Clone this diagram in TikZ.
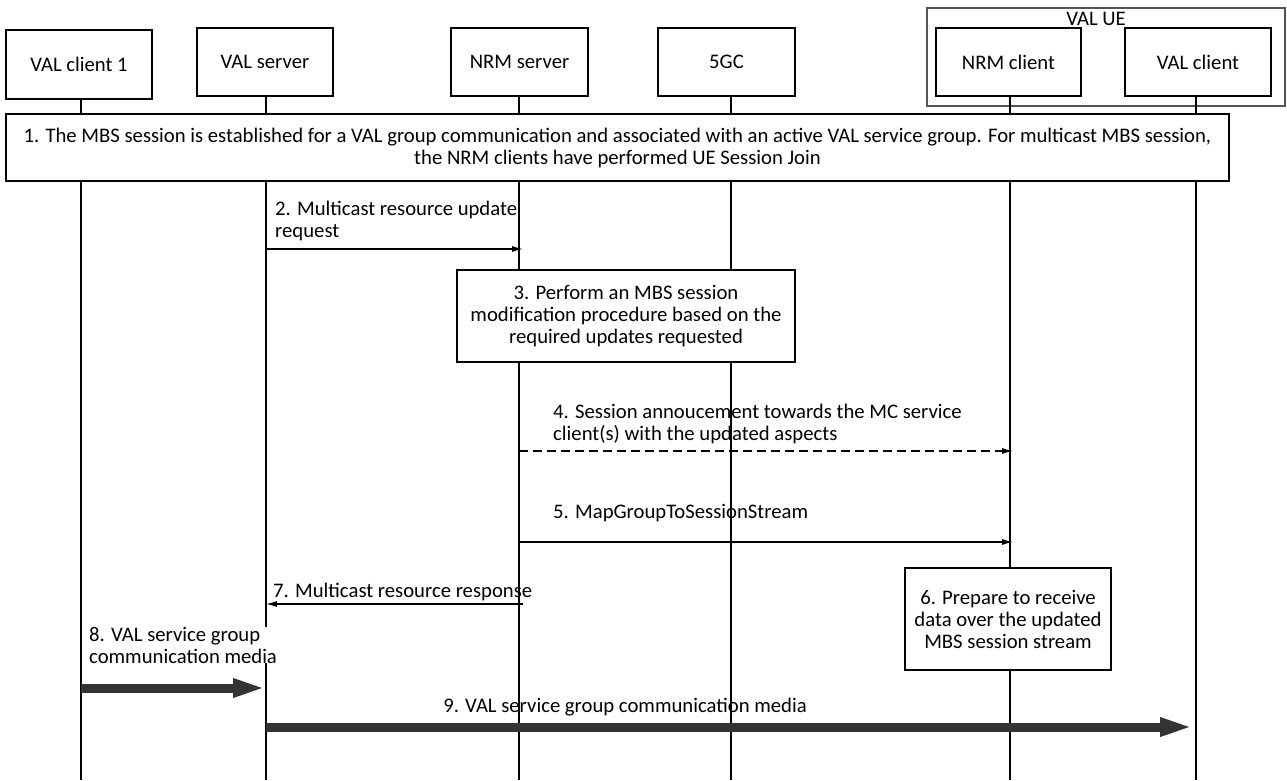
\documentclass[tikz,border=0pt]{standalone}
\usepackage{fontspec}
\setmainfont{Carlito}
\usetikzlibrary{arrows.meta}
\definecolor{mediac}{HTML}{333333}
\definecolor{uegray}{HTML}{555555}
\begin{document}
\begin{tikzpicture}[x=1pt,y=-1pt,
  every node/.style={font=\fontsize{20.7}{22}\selectfont, inner sep=0pt},
  hdr/.style={draw, line width=1.4pt, fill=white, minimum height=68pt},
  life/.style={line width=1.2pt},
  stepbox/.style={draw, line width=1.4pt, fill=white, align=center},
  msg/.style={line width=1.2pt, -{Latex[length=11pt,width=6pt]}},
  lbl/.style={anchor=base west, align=left},
  media/.style={line width=9pt, draw=mediac, -{Triangle[length=33pt,width=17pt]}}
]
\useasboundingbox (0,0) rectangle (1287,780);

% VAL UE group
\node[draw=uegray, line width=1.3pt, minimum width=358pt, minimum height=98pt] (ue) at (1106,57) {};
\node[anchor=base] (uelbl) at (1096,25) {VAL UE};

% lifeline ends
\coordinate (Lvc1) at (81,780);
\coordinate (Lvs) at (266,780);
\coordinate (Lnrms) at (519,780);
\coordinate (Lfgc) at (731,780);
\coordinate (Lnrmc) at (1010,780);
\coordinate (Lvc) at (1196,780);

% headers
\node[hdr, minimum width=146pt, minimum height=69pt] (vc1) at (79,64.5) {VAL client 1};
\node[hdr, minimum width=136pt] (vs) at (265,62) {VAL server};
\node[hdr, minimum width=137pt] (nrms) at (519.5,62) {NRM server};
\node[hdr, minimum width=137pt] (fgc) at (726.5,62) {5GC};
\node[hdr, minimum width=145pt] (nrmc) at (1008.5,62) {NRM client};
\node[hdr, minimum width=146pt] (vc) at (1198,62) {VAL client};

% lifelines
\draw[life] (vc1.south -| Lvc1) -- (Lvc1);
\draw[life] (vs.south -| Lvs) -- (Lvs);
\draw[life] (nrms.south -| Lnrms) -- (Lnrms);
\draw[life] (fgc.south -| Lfgc) -- (Lfgc);
\draw[life] (nrmc.south -| Lnrmc) -- (Lnrmc);
\draw[life] (vc.south -| Lvc) -- (Lvc);

% step 1
\node[stepbox, minimum width=1223pt, minimum height=67pt] (s1) at (617.5,147.5)
  {1. The MBS session is established for a VAL group communication and associated with an active VAL service group. For multicast MBS session,\\the NRM clients have performed UE Session Join};

% step 2
\coordinate (a2) at (266,249);
\coordinate (b2) at (523,249);
\draw[msg] (a2) -- (b2);
\node[lbl] (l2) at (275,237) {2. Multicast resource update\\request};

% step 3
\node[stepbox, minimum width=338pt, minimum height=92pt] (s3) at (626,316)
  {3. Perform an MBS session\\modification procedure based on the\\required updates requested};

% step 4
\coordinate (a4) at (519,451);
\coordinate (b4) at (1013,451);
\draw[msg, dash pattern=on 9pt off 5pt] (a4) -- (b4);
\node[lbl] (l4) at (553,440) {4. Session annoucement towards the MC service\\client(s) with the updated aspects};

% step 5
\coordinate (a5) at (519,542);
\coordinate (b5) at (1013,542);
\draw[msg] (a5) -- (b5);
\node[lbl] (l5) at (553,518) {5. MapGroupToSessionStream};

% step 6
\node[stepbox, minimum width=206pt, minimum height=102pt] (s6) at (1008,619)
  {6. Prepare to receive\\data over the updated\\MBS session stream};

% step 7
\coordinate (a7) at (523,604);
\coordinate (b7) at (266,604);
\draw[msg] (a7) -- (b7);
\node[lbl] (l7) at (273,597) {7. Multicast resource response};

% step 8
\node[lbl, fill=white] (l8) at (89,663) {8. VAL service group\\communication media};
\coordinate (a8) at (81,688);
\coordinate (b8) at (266,688);
\draw[media] (a8) -- (b8);

% step 9
\node[anchor=base] (l9) at (625,712) {9. VAL service group communication media};
\coordinate (a9) at (266,727);
\coordinate (b9) at (1193,727);
\draw[media] (a9) -- (b9);
\end{tikzpicture}
\end{document}
